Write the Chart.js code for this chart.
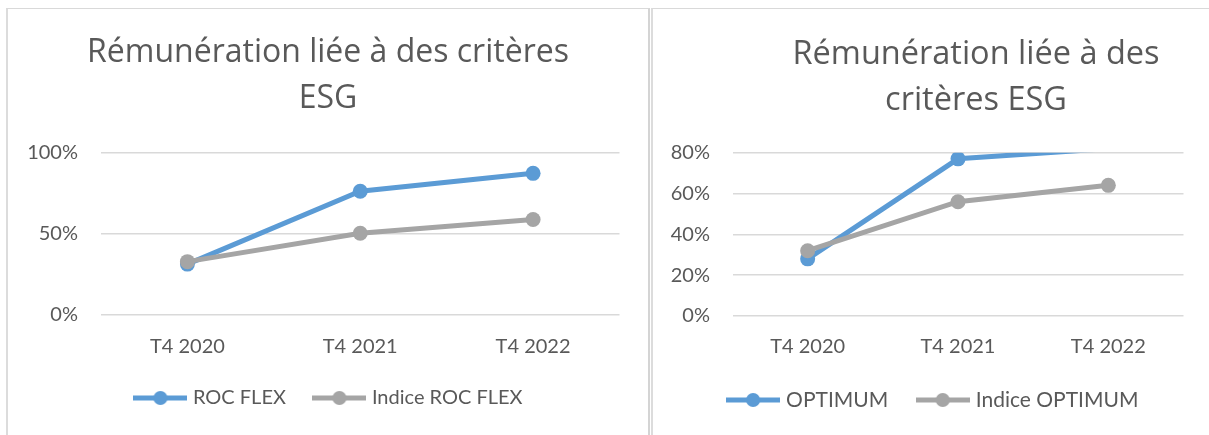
<!DOCTYPE html>
<html>
<head>
<meta charset="utf-8">
<script src="https://cdn.jsdelivr.net/npm/chart.js@4.4.1/dist/chart.umd.min.js"></script>
<style>
  body { margin: 0; background: #fff; width: 1209px; height: 435px; overflow: hidden; position: relative; }
  .frame { position: absolute; top: 8px; height: 440px; border-top: 1px solid #d9d9d9; box-sizing: border-box; }
  #frameLeft { left: 6px; width: 644px; border-left: 2px solid #dcdcdc; border-right: 2px solid #d4d4d4; }
  #frameRight { left: 651px; width: 600px; border-left: 2px solid #dcdcdc; }
  canvas { position: absolute; top: 9px; }
  #flexChart { left: 8px; }
  #optimumChart { left: 652px; }
</style>
</head>
<body>
<div class="frame" id="frameLeft"></div>
<div class="frame" id="frameRight"></div>
<canvas id="flexChart" width="640" height="426"></canvas>
<canvas id="optimumChart" width="557" height="426"></canvas>

<script>
// values (percent)
const quarters = ['T4 2020', 'T4 2021', 'T4 2022'];

const rocFlex = [31, 76, 87];
const indiceRocFlex = [32.5, 50, 58.5];
const flexTicks = [0, 50, 100];

const optimum = [28, 77, 82];
const indiceOptimum = [32, 56, 64];
const optimumTicks = [0, 20, 40, 60, 80];

const titleLines = {
    flex: ['Rémunération liée à des critères', 'ESG'],
    optimum: ['Rémunération liée à des', 'critères ESG']
};

const BLUE = '#5b9bd5';
const GREY = '#a5a5a5';

Chart.defaults.font.family = 'Lato, "Open Sans", sans-serif';
Chart.defaults.color = '#595959';

// little line + dot used as the legend marker, like the Excel legend
function legendMark(color) {
    const c = document.createElement('canvas');
    c.width = 54;
    c.height = 16;
    const g = c.getContext('2d');
    g.strokeStyle = color;
    g.lineWidth = 5;
    g.beginPath();
    g.moveTo(0, 8);
    g.lineTo(54, 8);
    g.stroke();
    g.fillStyle = color;
    g.beginPath();
    g.arc(27, 8, 7, 0, Math.PI * 2);
    g.fill();
    return c;
}

// shift title / legend sideways (Excel places them by hand)
const nudge = {
    id: 'nudge',
    afterLayout(chart, args, opts) {
        if (chart.titleBlock) {
            chart.titleBlock.left += opts.title;
            chart.titleBlock.right += opts.title;
        }
        if (chart.legend) {
            chart.legend.left += opts.legend;
            chart.legend.right += opts.legend;
        }
    }
};

function makeChart(id, cfg) {
    const ctx = document.getElementById(id).getContext('2d');
    const ticks = cfg.ticks;
    const marks = [legendMark(BLUE), legendMark(GREY)];

    return new Chart(ctx, {
        type: 'line',
        data: {
            labels: quarters,
            datasets: [{
                label: cfg.names[0],
                data: cfg.main,
                borderColor: BLUE,
                backgroundColor: BLUE,
                pointBackgroundColor: BLUE,
                pointRadius: cfg.mainRadius,
                borderWidth: 5,
                pointBorderWidth: 0,
                order: 1,
                clip: 0
            }, {
                label: cfg.names[1],
                data: cfg.index,
                borderColor: GREY,
                backgroundColor: GREY,
                pointBackgroundColor: GREY,
                pointRadius: 7.5,
                borderWidth: 5,
                pointBorderWidth: 0,
                order: 0,
                clip: 0
            }]
        },
        options: {
            responsive: false,
            animation: false,
            layout: { padding: { left: 0, right: cfg.padRight, top: 0, bottom: cfg.padBottom } },
            scales: {
                x: {
                    offset: true,
                    afterFit: (scale) => { scale.height = cfg.xHeight; },
                    grid: { display: false, drawTicks: false },
                    border: { display: false },
                    ticks: { padding: cfg.xPad, font: { size: 20 }, color: '#595959' }
                },
                y: {
                    min: ticks[0],
                    max: ticks[ticks.length - 1],
                    afterFit: (scale) => { scale.width = cfg.axisWidth; },
                    grid: { color: '#d9d9d9', lineWidth: 1.5, drawTicks: false },
                    border: { display: false },
                    ticks: {
                        stepSize: ticks[1] - ticks[0],
                        padding: cfg.yPad,
                        font: { size: 20 },
                        color: '#595959',
                        callback: v => v + '%'
                    }
                }
            },
            plugins: {
                tooltip: { enabled: false },
                title: {
                    display: true,
                    text: cfg.title,
                    color: '#595959',
                    font: { family: '"Open Sans", sans-serif', size: cfg.titleSize, weight: 'normal', lineHeight: 46 / cfg.titleSize },
                    padding: { top: cfg.titleTop, bottom: cfg.titleBottom }
                },
                legend: {
                    position: 'bottom',
                    labels: {
                        usePointStyle: true,
                        pointStyleWidth: 45,
                        padding: cfg.legendGap,
                        color: '#595959',
                        font: { size: cfg.legendSize },
                        generateLabels: (chart) => chart.data.datasets.map((ds, i) => ({
                            text: ds.label,
                            pointStyle: marks[i],
                            fillStyle: ds.borderColor,
                            strokeStyle: ds.borderColor,
                            lineWidth: 0,
                            fontColor: '#595959',
                            datasetIndex: i
                        }))
                    }
                },
                nudge: { title: cfg.nudgeTitle, legend: cfg.nudgeLegend }
            }
        },
        plugins: [nudge]
    });
}

makeChart('flexChart', {
    names: ['ROC FLEX', 'Indice ROC FLEX'],
    main: rocFlex,
    index: indiceRocFlex,
    mainRadius: 7.5,
    ticks: flexTicks,
    title: titleLines.flex,
    titleSize: 32,
    legendSize: 20,
    padRight: 28.5,
    padBottom: 17,
    axisWidth: 93,
    yPad: 23,
    xPad: 20.7,
    xHeight: 42.7,
    titleTop: 20.5,
    titleBottom: 30.8,
    legendGap: 31,
    nudgeTitle: 14.25,
    nudgeLegend: 16.5
});

makeChart('optimumChart', {
    names: ['OPTIMUM', 'Indice OPTIMUM'],
    main: optimum,
    index: indiceOptimum,
    mainRadius: [7.5, 7.5, 0],
    ticks: optimumTicks,
    title: titleLines.optimum,
    titleSize: 32.5,
    legendSize: 21,
    padRight: 25.5,
    padBottom: 14.5,
    axisWidth: 80.5,
    yPad: 22.5,
    xPad: 18.7,
    xHeight: 41.5,
    titleTop: 22.5,
    titleBottom: 29.2,
    legendGap: 32,
    nudgeTitle: 58.25,
    nudgeLegend: 16.75
});
</script>
</body>
</html>
